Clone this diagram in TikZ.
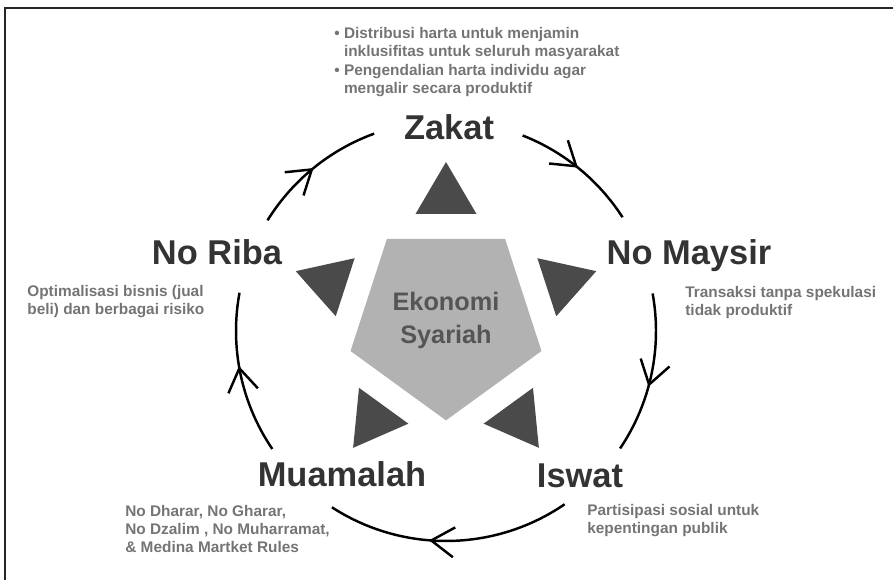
\documentclass[tikz,border=0pt]{standalone}
\usepackage{fontspec}
\setmainfont{Liberation Sans}
\usetikzlibrary{arrows.meta,decorations.markings,calc}
\definecolor{titlegray}{HTML}{333333}
\definecolor{notegray}{HTML}{747474}
\definecolor{coretext}{HTML}{555555}
\definecolor{corefill}{HTML}{B2B2B2}
\definecolor{wedgegray}{HTML}{4A4A4A}
\begin{document}
\begin{tikzpicture}[x=0.02cm,y=0.02cm,
  title/.style={font=\fontsize{19.6}{23}\selectfont\bfseries, text=titlegray, inner sep=0pt, anchor=base},
  note/.style={font=\fontsize{8.76}{10.2}\selectfont\bfseries, text=notegray, inner sep=0pt, anchor=north west, align=left},
  coretxt/.style={font=\fontsize{14.4}{18.8}\selectfont\bfseries, text=coretext, inner sep=0pt, align=center},
  wedge/.style={fill=wedgegray},
  ringline/.style={line width=1.4pt, draw=black},
  flow/.style={ringline, postaction={decorate},
    decoration={markings, mark=at position #1 with {\arrow{Straight Barb[length=13pt,width=17pt]}}}},
  frameline/.style={line width=1.15pt, draw=black!85}
]
\useasboundingbox (0,0) rectangle (893,580);

% frame edges
\draw[frameline] (5,0) -- (5,572) -- (893,572);

% centres of the ring and of the pentagon
\coordinate (ring) at (446,249);
\coordinate (pc) at (446,260);

% core pentagon
\fill[corefill] ($(pc)+(-90:100.4)$) -- ($(pc)+(-18:100.4)$) -- ($(pc)+(54:100.4)$)
  -- ($(pc)+(126:100.4)$) -- ($(pc)+(198:100.4)$) -- cycle;
\node[coretxt] (core) at (pc) {Ekonomi\\Syariah};

% outward pointing wedges, one per pentagon edge
\foreach \r in {0,-72,-144,-216,72}{
  \begin{scope}[shift={(pc)}, rotate=\r]
    \fill[wedge] (0,158) -- (-30.5,106) -- (30.5,106) -- cycle;
  \end{scope}
}

% pillar titles
\node[title] (zakat) at (449,440) {Zakat};
\node[title] (maysir) at (689,315) {No Maysir};
\node[title] (riba) at (217,315) {No Riba};
\node[title] (muamalah) at (342,93) {Muamalah};
\node[title] (iswat) at (580,92) {Iswat};

% pillar notes
\node[note, font=\fontsize{8.76}{10.5}\selectfont\bfseries] (zakatnote) at (334,553)
  {• Distribusi harta untuk menjamin\\\hphantom{• }inklusifitas untuk seluruh masyarakat\\• Pengendalian harta individu agar\\\hphantom{• }mengalir secara produktif};
\node[note] (maysirnote) at (685,294) {Transaksi tanpa spekulasi\\tidak produktif};
\node[note] (ribanote) at (27,295) {Optimalisasi bisnis (jual\\beli) dan berbagai risiko};
\node[note] (muamalahnote) at (125,75) {No Dharar, No Gharar,\\No Dzalim , No Muharramat,\\\& Medina Martket Rules};
\node[note] (iswatnote) at (587,76) {Partisipasi sosial untuk\\kepentingan publik};

% ring segments between the pillars
\coordinate (z-out) at ($(ring)+(68.6:210)$);
\coordinate (m-out) at ($(ring)+(10.3:210)$);
\coordinate (i-out) at ($(ring)+(-55.6:210)$);
\coordinate (mu-out) at ($(ring)+(-145.8:210)$);
\coordinate (r-out) at ($(ring)+(148.2:210)$);

\draw[flow=0.49] (z-out) arc[start angle=68.6, end angle=32.8, radius=210];
\draw[flow=0.58] (m-out) arc[start angle=10.3, end angle=-34, radius=210];
\draw[flow=0.58] (i-out) arc[start angle=-55.6, end angle=-122.9, radius=210];
\draw[flow=0.55] (mu-out) arc[start angle=-145.8, end angle=-190.5, radius=210];
\draw[flow=0.50] (r-out) arc[start angle=148.2, end angle=110, radius=210];
\end{tikzpicture}
\end{document}
